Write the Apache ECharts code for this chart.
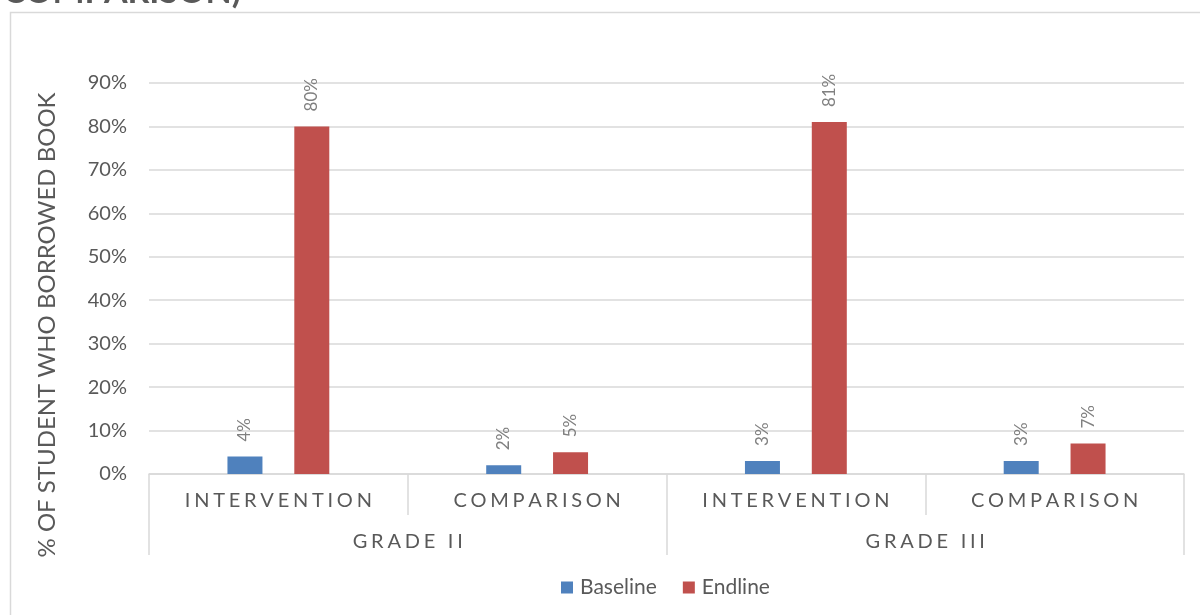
<!DOCTYPE html>
<html>
<head>
<meta charset="utf-8">
<script src="https://cdn.jsdelivr.net/npm/echarts@6/dist/echarts.min.js"></script>
<style>
  html, body { margin: 0; padding: 0; background: #fff; }
  #chart { width: 1200px; height: 615px; }
</style>
</head>
<body>
<div id="chart"></div>
<script>
// Book borrowing by grade and group, baseline vs endline
const subCategories = ['INTERVENTION', 'COMPARISON', 'INTERVENTION', 'COMPARISON'];
const grades = ['GRADE II', 'GRADE III'];
const baseline = [4, 2, 3, 3];
const endline = [80, 5, 81, 7];
const yTicks = [0, 10, 20, 30, 40, 50, 60, 70, 80, 90];

const FONT = 'Lato, "Open Sans", sans-serif';
const TEXT = '#595959';
const LINE = '#d9d9d9';

// spread capital letters apart with thin + hair spaces
const spaced = s => s.split('').join('\u2009\u200A');

const chart = echarts.init(document.getElementById('chart'), null, { renderer: 'canvas' });

chart.setOption({
  backgroundColor: '#fff',
  animation: false,
  textStyle: { fontFamily: FONT },
  title: {
    text: 'COMPARISON)',
    left: -2,
    top: -30,
    textStyle: { fontFamily: FONT, fontSize: 34, fontWeight: 'bold', color: TEXT }
  },
  graphic: [
    {
      type: 'rect',
      shape: { x: 10.5, y: 12.5, width: 1200, height: 700 },
      style: { fill: 'none', stroke: LINE, lineWidth: 1.5 },
      silent: true
    },
    {
      type: 'text',
      x: 47,
      y: 325,
      rotation: Math.PI / 2,
      style: {
        text: '% OF STUDENT WHO BORROWED BOOK',
        fontFamily: FONT,
        fontSize: 24,
        fill: TEXT,
        align: 'center',
        verticalAlign: 'middle'
      }
    }
  ],
  legend: {
    data: ['Baseline', 'Endline'],
    bottom: 12,
    left: 556,
    icon: 'rect',
    itemWidth: 12,
    itemHeight: 12,
    itemGap: 26,
    textStyle: { fontFamily: FONT, fontSize: 21, color: TEXT, padding: [0, 0, 0, 2] }
  },
  grid: { left: 149, right: 16, top: 83, bottom: 141, containLabel: false },
  xAxis: [
    {
      type: 'category',
      data: subCategories,
      axisLine: { lineStyle: { color: LINE, width: 1.5 } },
      axisTick: { show: true, length: 41, lineStyle: { color: LINE, width: 1.5 } },
      axisLabel: {
        formatter: v => spaced(v),
        fontFamily: FONT, fontSize: 20, color: TEXT, margin: 17
      }
    },
    {
      type: 'category',
      data: grades,
      position: 'bottom',
      axisLine: { show: false },
      axisTick: { show: true, length: 81, lineStyle: { color: LINE, width: 1.5 } },
      axisLabel: {
        formatter: v => spaced(v),
        fontFamily: FONT, fontSize: 20, color: TEXT, margin: 58
      }
    }
  ],
  yAxis: {
    type: 'value',
    min: yTicks[0],
    max: yTicks[yTicks.length - 1],
    interval: 10,
    axisLine: { show: false },
    axisTick: { show: false },
    splitLine: { lineStyle: { color: LINE, width: 1.5 } },
    axisLabel: {
      formatter: '{value}%',
      fontFamily: FONT, fontSize: 20, color: TEXT, margin: 22
    }
  },
  series: [
    {
      name: 'Baseline',
      type: 'bar',
      xAxisIndex: 0,
      data: baseline,
      barWidth: 35,
      barGap: '91%',
      itemStyle: { color: '#4f81bd' },
      label: {
        show: true, position: 'top', rotate: 90, distance: 15,
        align: 'left', verticalAlign: 'middle',
        formatter: '{c}%', fontFamily: FONT, fontSize: 17, color: '#808080'
      }
    },
    {
      name: 'Endline',
      type: 'bar',
      xAxisIndex: 0,
      data: endline,
      barWidth: 35,
      barGap: '91%',
      itemStyle: { color: '#c0504d' },
      label: {
        show: true, position: 'top', rotate: 90, distance: 15,
        align: 'left', verticalAlign: 'middle',
        formatter: '{c}%', fontFamily: FONT, fontSize: 17, color: '#808080'
      }
    }
  ]
});
</script>
</body>
</html>
